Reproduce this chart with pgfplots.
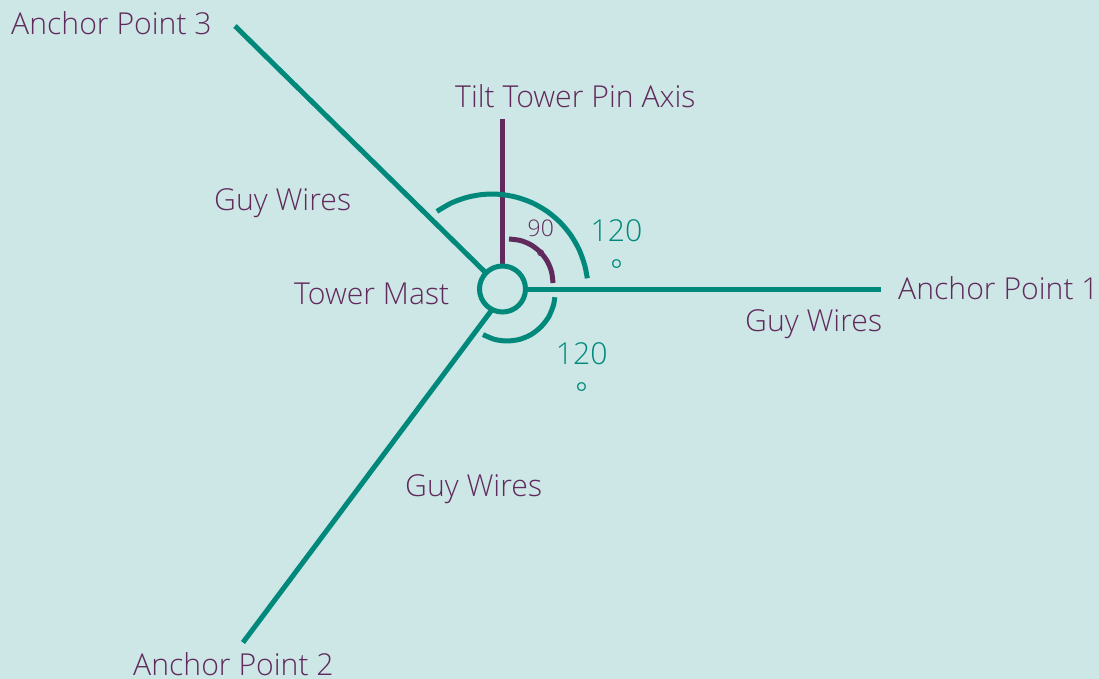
\documentclass[border=0pt]{standalone}
\usepackage{fontspec}
\setmainfont{Open Sans}[UprightFont={* Light}]
\usepackage{pgfplots}
\pgfplotsset{compat=1.18}
\definecolor{bgc}{RGB}{205,230,230}
\definecolor{teal1}{RGB}{0,137,123}
\definecolor{purp}{RGB}{96,42,92}
\begin{document}
\begin{tikzpicture}
\begin{axis}[width=1099bp, height=679bp, scale only axis,
  xmin=0, xmax=1099, ymin=0, ymax=679, hide axis, clip=false]
\coordinate (BL) at (rel axis cs:0,0);
\coordinate (TR) at (rel axis cs:1,1);
% background
\addplot[fill=bgc, draw=none] coordinates {(0,0) (1099,0) (1099,679) (0,679)} \closedcycle;
% guy wires
\addplot[teal1, line width=5bp, line cap=butt] coordinates {(527,389.5) (880.5,389.5)};
\addplot[teal1, line width=5bp, line cap=butt] coordinates {(235,653) (485,407)};
\addplot[teal1, line width=5bp, line cap=butt] coordinates {(243,36.5) (491,368)};
% tilt axis
\addplot[purp, line width=5bp, line cap=butt] coordinates {(502.3,559.7) (502.3,412)};
% big 120 arc
\addplot[teal1, line width=5bp, smooth, line cap=butt] coordinates {
(587.3,400.7) (584.7,413.8) (579.0,429.6) (570.6,444.1) (559.9,456.9) (547.1,467.6)
(532.6,476.0) (516.8,481.7) (500.4,484.6) (483.6,484.6) (467.2,481.7) (451.4,476.0) (436.9,467.6)};
% lower 120 arc
\addplot[teal1, line width=5bp, smooth, line cap=butt] coordinates {
(554.8,381.8) (553.4,373.6) (548.6,362.0) (540.9,352.1) (531.0,344.4) (519.4,339.6)
(507,338) (494.6,339.6) (483,344.4)};
% 90 arc
\addplot[purp, line width=5bp, smooth, line cap=butt] coordinates {
(553,396) (551.5,407.4) (547.1,418.0) (540.1,427.1) (531.0,434.1) (520.4,438.5) (509,440)};
% tower mast
\addplot[only marks, mark=*, mark size=23bp, mark options={draw=teal1, fill=bgc, line width=5bp}] coordinates {(502.5,390)};
% labels
\tikzset{lab/.style={inner sep=0pt, text=purp, font=\fontsize{30.3}{36}\selectfont}}
\node[lab, anchor=base west] at (axis cs:11,644) {Anchor Point 3};
\node[lab, anchor=base west] at (axis cs:455,571.3) {Tilt Tower Pin Axis};
\node[lab, anchor=base west] at (axis cs:214,468.5) {Guy Wires};
\node[lab, anchor=base west] at (axis cs:294,374) {Tower Mast};
\node[lab, anchor=base west] at (axis cs:898,379) {Anchor Point 1};
\node[lab, anchor=base west] at (axis cs:745,347.5) {Guy Wires};
\node[lab, anchor=base west] at (axis cs:405,182.3) {Guy Wires};
\node[lab, anchor=base west] at (axis cs:133,4) {Anchor Point 2};
% angle labels
\node[lab, text=teal1, anchor=base] at (axis cs:616.5,437.3) {120};
\node[lab, text=teal1, anchor=base] at (axis cs:616.5,397) {°};
\node[lab, text=teal1, anchor=base] at (axis cs:581.7,314.7) {120};
\node[lab, text=teal1, anchor=base] at (axis cs:581.7,274.7) {°};
\node[lab, font=\fontsize{23}{27}\selectfont, anchor=base] at (axis cs:540.8,442.3) {90};
\node[lab, font=\fontsize{23}{27}\selectfont, anchor=base] at (axis cs:540.8,412.7) {°};
\end{axis}
\pgfresetboundingbox
\path[use as bounding box] (BL) rectangle (TR);
\end{tikzpicture}
\end{document}
